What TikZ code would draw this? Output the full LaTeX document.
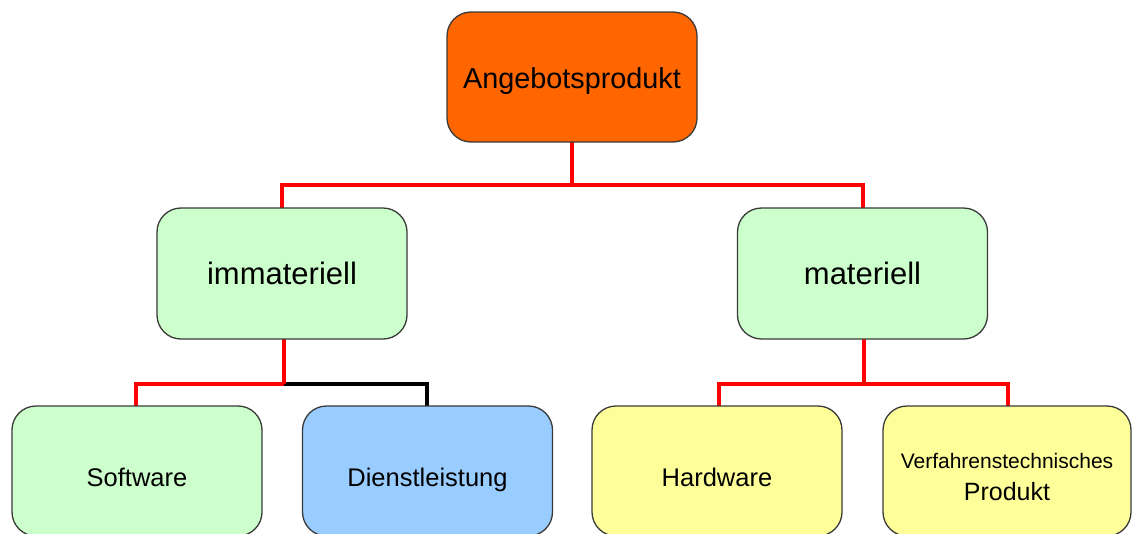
\documentclass[tikz,border=0pt]{standalone}
\usepackage{fontspec}
\setmainfont{Liberation Sans}
\definecolor{topfill}{HTML}{FF6600}
\definecolor{greenfill}{HTML}{CCFFCC}
\definecolor{bluefill}{HTML}{99CCFF}
\definecolor{yellowfill}{HTML}{FFFF99}
\definecolor{boxline}{HTML}{3A3A3A}
\definecolor{linkred}{HTML}{FF0000}
\tikzset{
  box/.style={draw=boxline, line width=1.3pt, rounded corners=24pt,
    minimum width=250pt, inner sep=0pt, align=center, text=black},
  topbox/.style={box, minimum height=130pt, font=\fontsize{28.8}{32}\selectfont,
    text height=22pt, text depth=0pt},
  midbox/.style={box, minimum height=131pt, font=\fontsize{31}{34}\selectfont,
    text height=22.5pt, text depth=0pt},
  lowbox/.style={box, minimum height=130pt, font=\fontsize{25.5}{30}\selectfont,
    text height=31pt, text depth=0pt},
  redlink/.style={draw=linkred, line width=4pt, line join=miter},
  blacklink/.style={draw=black, line width=4pt, line join=miter},
}
\begin{document}
\begin{tikzpicture}[x=1pt, y=-1pt]
  \useasboundingbox (0,0) rectangle (1132,533);
  \clip (0,0) rectangle (1132,533);
  \fill[white] (0,0) rectangle (1132,533);

  % junction points of the connector buses
  \coordinate (busTop) at (572,185);
  \coordinate (busImm) at (284,384);
  \coordinate (busMat) at (864,384);

  % connectors, drawn first so the boxes cover their ends
  \draw[blacklink] (busImm) -| (427,406) coordinate (dienTop);
  \draw[redlink] (572,142) -- (busTop);
  \draw[redlink] (busTop) -| (282,208);
  \draw[redlink] (busTop) -| (862.5,208);
  \draw[redlink] (284,339) -- (busImm);
  \draw[redlink] (busImm) -| (136,406);
  \draw[redlink] (864,339) -- (busMat);
  \draw[redlink] (busMat) -| (719,406);
  \draw[redlink] (busMat) -| (1008,406);

  % top level
  \node[topbox, fill=topfill] (top) at (572,77) {Angebotsprodukt};

  % second level
  \node[midbox, fill=greenfill] (imm) at (282,273.5) {immateriell};
  \node[midbox, fill=greenfill] (mat) at (862.5,273.5) {materiell};

  % third level
  \node[lowbox, fill=greenfill]  (soft) at (137,471) {Software};
  \node[lowbox, fill=bluefill]   (dien) at (427.5,471) {Dienstleistung};
  \node[lowbox, fill=yellowfill] (hard) at (717,471) {Hardware};
  \node[box, fill=yellowfill, minimum width=248pt, minimum height=130pt]
    (verf) at (1007,471) {};
  \node[align=center, inner sep=0pt, font=\fontsize{25}{32}\selectfont]
    (verfText) at (1007,477.4)
    {{\fontsize{21}{32}\selectfont Verfahrenstechnisches}\\Produkt};
\end{tikzpicture}
\end{document}
